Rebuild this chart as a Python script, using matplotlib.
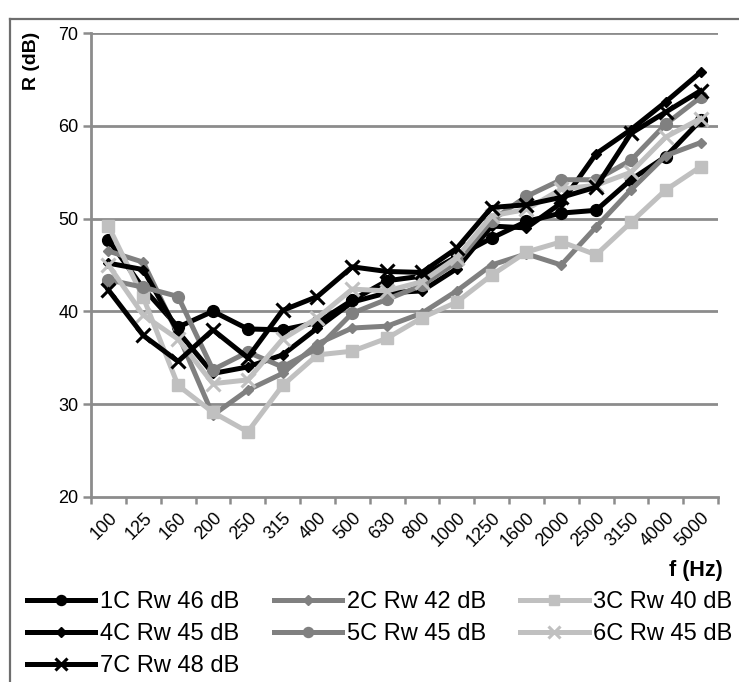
import numpy as np
import matplotlib
matplotlib.use('Agg')
import matplotlib.pyplot as plt
from matplotlib.lines import Line2D

plt.rcParams['font.family'] = ['Liberation Sans', 'DejaVu Sans']

## data
freqs = ['100', '125', '160', '200', '250', '315', '400', '500', '630', '800',
         '1000', '1250', '1600', '2000', '2500', '3150', '4000', '5000']

r_1c = [47.7, 42.5, 38.3, 40.0, 38.1, 38.0, 38.8, 41.2, 43.3, 43.8, 45.9, 47.9, 49.7, 50.6, 50.9, 54.2, 56.7, 60.6]
r_2c = [46.5, 45.3, 37.5, 28.8, 31.5, 33.3, 36.5, 38.2, 38.4, 39.8, 42.2, 45.0, 46.2, 45.0, 49.1, 53.1, 56.8, 58.2]
r_3c = [49.2, 41.5, 32.0, 29.1, 27.0, 32.0, 35.3, 35.7, 37.1, 39.3, 41.0, 43.9, 46.4, 47.5, 46.1, 49.6, 53.1, 55.6]
r_4c = [45.2, 44.5, 37.8, 33.3, 34.0, 35.3, 38.2, 41.0, 42.0, 42.2, 44.6, 49.2, 49.0, 51.7, 57.0, 59.6, 62.6, 65.8]
r_5c = [43.4, 42.6, 41.6, 33.7, 35.6, 34.0, 36.0, 39.8, 41.3, 42.8, 45.3, 49.8, 52.4, 54.2, 54.2, 56.3, 60.2, 63.1]
r_6c = [45.0, 39.6, 37.0, 32.2, 32.6, 37.0, 39.3, 42.4, 42.2, 43.2, 45.8, 50.3, 51.0, 53.2, 53.6, 55.0, 58.8, 60.8]
r_7c = [42.3, 37.4, 34.6, 38.0, 35.0, 40.1, 41.6, 44.8, 44.3, 44.2, 46.8, 51.2, 51.5, 52.3, 53.4, 59.2, 61.5, 63.8]

labels = ['1C Rw 46 dB', '2C Rw 42 dB', '3C Rw 40 dB', '4C Rw 45 dB',
          '5C Rw 45 dB', '6C Rw 45 dB', '7C Rw 48 dB']

black = '#000000'
dgray = '#808080'
lgray = '#c0c0c0'
grid_c = '#8c8c8c'

fig = plt.figure(figsize=(7.39, 6.82), dpi=100)
ax = fig.add_axes([91 / 739, 0.2717, 627 / 739, 0.6795])

x = np.arange(len(freqs))
lw = 3.6

h1, = ax.plot(x, r_1c, color=black, lw=lw, marker='o', ms=8.5)
h2, = ax.plot(x, r_2c, color=dgray, lw=lw, marker='D', ms=5.5)
h3, = ax.plot(x, r_3c, color=lgray, lw=lw, marker='s', ms=8.5)
h4, = ax.plot(x, r_4c, color=black, lw=lw, marker='D', ms=5.5)
h5, = ax.plot(x, r_5c, color=dgray, lw=lw, marker='o', ms=8.5)
h6, = ax.plot(x, r_6c, color=lgray, lw=lw, marker='x', ms=10, mew=2.2)
h7, = ax.plot(x, r_7c, color=black, lw=lw, marker='x', ms=10, mew=2.2)

ax.set_xlim(-0.5, len(freqs) - 0.5)
ax.set_ylim(20, 70)
ax.set_yticks([20, 30, 40, 50, 60, 70])
ax.set_xticks(x)
ax.set_xticklabels(freqs, rotation=45, fontsize=13, ha='right', va='top',
                   rotation_mode='anchor')
ax.set_xticks(np.arange(-0.5, len(freqs)), minor=True)
ax.tick_params(axis='x', which='major', length=0, pad=9)
ax.tick_params(axis='x', which='minor', length=5, width=1.8, color=grid_c)
ax.tick_params(axis='y', length=6, width=1.8, color=grid_c, labelsize=13, pad=3)

for v in [30, 40, 50, 60, 70]:
    ax.axhline(v, color=grid_c, lw=2, zorder=0.5)

for s in ['top', 'right']:
    ax.spines[s].set_visible(False)
for s in ['left', 'bottom']:
    ax.spines[s].set_color(grid_c)
    ax.spines[s].set_linewidth(2)

fig.text(0.042, 0.953, 'R (dB)', rotation=90, fontsize=14, fontweight='bold',
         ha='center', va='top')
fig.text(0.978, 0.163, 'f (Hz)', fontsize=15.5, fontweight='bold', ha='right', va='center')

# legend, filled column by column
hs = [h1, h4, h7, h2, h5, h3, h6]
ls = [labels[0], labels[3], labels[6], labels[1], labels[4], labels[2], labels[5]]
fig.legend(hs, ls, loc='upper left', bbox_to_anchor=(0.0365, 0.133), ncol=3,
           frameon=False, fontsize=17, handlelength=2.9, handletextpad=0.2,
           columnspacing=1.45, labelspacing=0.42, borderaxespad=0, borderpad=0,
           markerscale=0.85)

# chart-area border (cropped)
fig.add_artist(Line2D([0.0135, 1.0], [0.972, 0.972], color='#6e6e6e', lw=1.6))
fig.add_artist(Line2D([0.0135, 0.0135], [0.0, 0.972], color='#6e6e6e', lw=1.6))

fig.savefig('out.png', dpi=100)
